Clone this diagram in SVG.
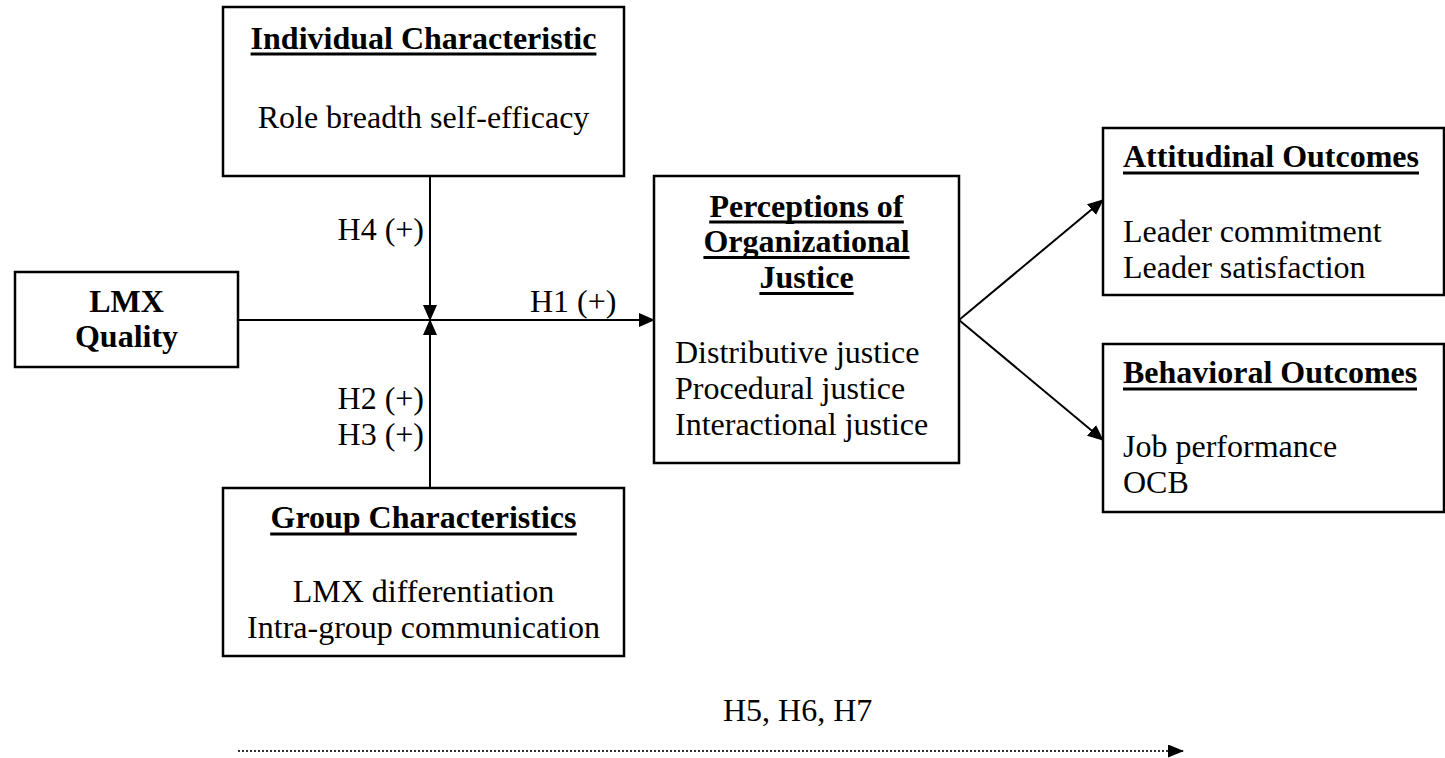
<svg xmlns="http://www.w3.org/2000/svg" width="1445" height="758" viewBox="0 0 1445 758">
  <style>
    .box { fill: #ffffff; stroke: #000000; stroke-width: 2.5; }
    .t { font-family: "Liberation Serif", "Times New Roman", serif; font-size: 32px; fill: #000000; }
    .b { font-weight: bold; }
    .c { text-anchor: middle; }
    .e { text-anchor: end; }
    .ul { stroke: #000000; stroke-width: 3; }
    .conn { stroke: #000000; stroke-width: 2; fill: none; }
    .dot { stroke: #333333; stroke-width: 2; stroke-dasharray: 2 2; fill: none; }
  </style>
  <defs>
    <marker id="arrow" markerUnits="userSpaceOnUse" markerWidth="16" markerHeight="14" refX="15" refY="7" orient="auto">
      <path d="M0,0 L16,7 L0,14 Z" fill="#000000"/>
    </marker>
    <marker id="arrowSmall" markerUnits="userSpaceOnUse" markerWidth="16" markerHeight="13" refX="15" refY="6.5" orient="auto">
      <path d="M0,0 L16,6.5 L0,13 Z" fill="#000000"/>
    </marker>
  </defs>

  <rect width="1445" height="758" fill="#ffffff"/>

  <g id="connectors">
    <line class="conn" x1="238" y1="320" x2="654" y2="320" marker-end="url(#arrow)"/>
    <line class="conn" x1="430" y1="176" x2="430" y2="320" marker-end="url(#arrow)"/>
    <line class="conn" x1="430" y1="488" x2="430" y2="320" marker-end="url(#arrow)"/>
    <line class="conn" x1="959" y1="320" x2="1103" y2="200" marker-end="url(#arrow)"/>
    <line class="conn" x1="959" y1="320" x2="1103" y2="440" marker-end="url(#arrow)"/>
    <line class="dot" x1="238" y1="751" x2="1183" y2="751" marker-end="url(#arrowSmall)"/>
    <text class="t e" x="424" y="240">H4 (+)</text>
    <text class="t" x="530" y="312">H1 (+)</text>
    <text class="t e" x="424" y="409">H2 (+)</text>
    <text class="t e" x="424" y="445">H3 (+)</text>
    <text class="t" x="723" y="721">H5, H6, H7</text>
  </g>

  <g id="individual">
    <rect class="box" x="223" y="7" width="401" height="169"/>
    <text class="t b c" x="423.5" y="49">Individual Characteristic</text>
    <line class="ul" x1="250.6" y1="54" x2="596.4" y2="54"/>
    <text class="t c" x="423.5" y="128">Role breadth self-efficacy</text>
  </g>

  <g id="lmx">
    <rect class="box" x="15" y="272" width="223" height="95"/>
    <text class="t b c" x="126.5" y="312">LMX</text>
    <text class="t b c" x="126.5" y="347">Quality</text>
  </g>

  <g id="perceptions">
    <rect class="box" x="654" y="176" width="305" height="287"/>
    <text class="t b c" x="806.5" y="217">Perceptions of</text>
    <line class="ul" x1="709.2" y1="222" x2="903.8" y2="222"/>
    <text class="t b c" x="806.5" y="252">Organizational</text>
    <line class="ul" x1="703.4" y1="257.5" x2="909.6" y2="257.5"/>
    <text class="t b c" x="806.5" y="288">Justice</text>
    <line class="ul" x1="759.4" y1="293.5" x2="853.6" y2="293.5"/>
    <text class="t" x="675" y="363">Distributive justice</text>
    <text class="t" x="675" y="399">Procedural justice</text>
    <text class="t" x="675" y="435">Interactional justice</text>
  </g>

  <g id="attitudinal">
    <rect class="box" x="1103" y="128" width="341" height="167"/>
    <text class="t b" x="1123" y="167">Attitudinal Outcomes</text>
    <line class="ul" x1="1123" y1="173" x2="1419" y2="173"/>
    <text class="t" x="1123" y="242">Leader commitment</text>
    <text class="t" x="1123" y="278">Leader satisfaction</text>
  </g>

  <g id="behavioral">
    <rect class="box" x="1103" y="344" width="341" height="168"/>
    <text class="t b" x="1123" y="383">Behavioral Outcomes</text>
    <line class="ul" x1="1123" y1="389" x2="1417" y2="389"/>
    <text class="t" x="1123" y="457">Job performance</text>
    <text class="t" x="1123" y="493">OCB</text>
  </g>

  <g id="group">
    <rect class="box" x="223" y="488" width="401" height="168"/>
    <text class="t b c" x="423.5" y="528">Group Characteristics</text>
    <line class="ul" x1="270.2" y1="534" x2="576.8" y2="534"/>
    <text class="t c" x="423.5" y="602">LMX differentiation</text>
    <text class="t c" x="423.5" y="638">Intra-group communication</text>
  </g>
</svg>
